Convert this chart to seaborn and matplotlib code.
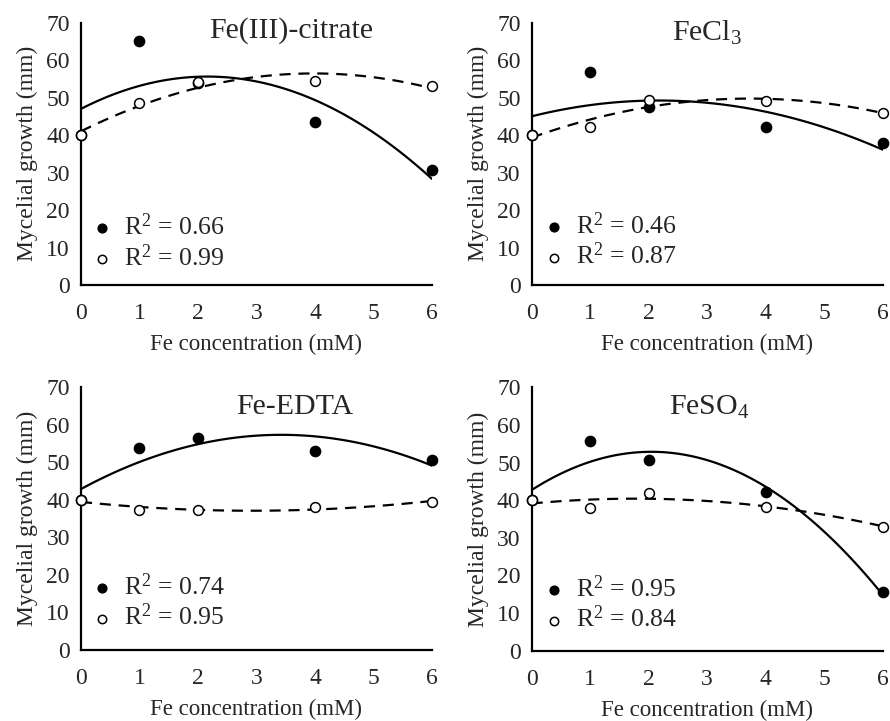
import matplotlib
matplotlib.use("Agg")
import matplotlib.pyplot as plt
import numpy as np
import pandas as pd
import seaborn as sns

# Fe concentrations (mM)
conc = [0, 1, 2, 4, 6]

# mycelial growth (mm), filled = series 1, open = series 2
citrate_filled = [40, 65.2, 54.0, 43.4, 30.8]
citrate_open = [40, 48.6, 54.2, 54.4, 53.2]
fecl3_filled = [40, 56.9, 47.6, 42.3, 37.8]
fecl3_open = [40, 42.1, 49.4, 49.1, 46.0]
edta_filled = [40, 53.9, 56.4, 53.0, 50.6]
edta_open = [40, 37.3, 37.3, 38.0, 39.5]
feso4_filled = [40, 55.7, 50.7, 42.3, 15.5]
feso4_open = [40, 38.0, 41.8, 38.3, 33.0]

titles = ["Fe(III)-citrate", "FeCl$_3$", "Fe-EDTA", "FeSO$_4$"]
r2_filled = ["0.66", "0.46", "0.74", "0.95"]
r2_open = ["0.99", "0.87", "0.95", "0.84"]

sns.set_theme(style="white")
plt.rcParams["font.family"] = ["Liberation Serif", "DejaVu Serif"]
plt.rcParams["mathtext.fontset"] = "custom"
plt.rcParams["mathtext.rm"] = "Liberation Serif"
plt.rcParams["mathtext.it"] = "Liberation Serif"
plt.rcParams["mathtext.bf"] = "Liberation Serif"

fig = plt.figure(figsize=(8.9, 7.21), dpi=100)
positions = [
    [0.091, 0.6047, 0.3944, 0.3638],
    [0.5974, 0.6047, 0.3944, 0.3638],
    [0.091, 0.0985, 0.3944, 0.3643],
    [0.5974, 0.0975, 0.3944, 0.3653],
]
title_pos = [(0.60, 0.972), (0.50, 0.962), (0.61, 0.924), (0.505, 0.924)]
legend_pos = [(0.03, 0.055), (0.035, 0.06), (0.03, 0.075), (0.035, 0.07)]

series = [
    (citrate_filled, citrate_open),
    (fecl3_filled, fecl3_open),
    (edta_filled, edta_open),
    (feso4_filled, feso4_open),
]

for i, (filled, opened) in enumerate(series):
    ax = fig.add_axes(positions[i])
    df = pd.DataFrame({"conc": conc, "filled": filled, "open": opened})

    sns.regplot(data=df, x="conc", y="filled", order=2, ci=None, scatter=False,
                truncate=True, ax=ax,
                line_kws=dict(color="black", lw=1.6, zorder=2))
    sns.regplot(data=df, x="conc", y="open", order=2, ci=None, scatter=False,
                truncate=True, ax=ax,
                line_kws=dict(color="black", lw=1.6, ls=(0, (5, 3.5)), zorder=2))

    s1 = ax.scatter(df["conc"], df["filled"], s=55, color="black", zorder=3,
                    clip_on=False, label=f"R$^2$ = {r2_filled[i]}")
    s2 = ax.scatter(df["conc"], df["open"], s=50, facecolor="white",
                    edgecolor="black", linewidth=1.1, zorder=4, clip_on=False,
                    label=f"R$^2$ = {r2_open[i]}")

    ax.set_xlim(0, 6)
    ax.set_ylim(0, 70)
    ax.set_xticks([0, 1, 2, 3, 4, 5, 6])
    ax.set_yticks(np.arange(0, 71, 10))
    ax.tick_params(axis="x", length=0, labelsize=17, pad=13)
    ax.tick_params(axis="y", length=0, labelsize=17, pad=8)
    ax.set_xlabel("Fe concentration (mM)", fontsize=16.5, labelpad=7)
    ax.set_ylabel("Mycelial growth (mm)", fontsize=17, labelpad=6)
    for side in ["top", "right"]:
        ax.spines[side].set_visible(False)
    for side in ["left", "bottom"]:
        ax.spines[side].set_color("black")
        ax.spines[side].set_linewidth(1.6)

    ax.text(title_pos[i][0], title_pos[i][1], titles[i], transform=ax.transAxes,
            ha="center", va="center", fontsize=21.5)

    ax.legend(handles=[s1, s2], loc="lower left", bbox_to_anchor=legend_pos[i],
              frameon=False, fontsize=18.5, markerscale=0.85, handlelength=0.8,
              handletextpad=0.45, labelspacing=0.15, borderpad=0, borderaxespad=0)

fig.savefig("out.png", dpi=100)
plt.close()
